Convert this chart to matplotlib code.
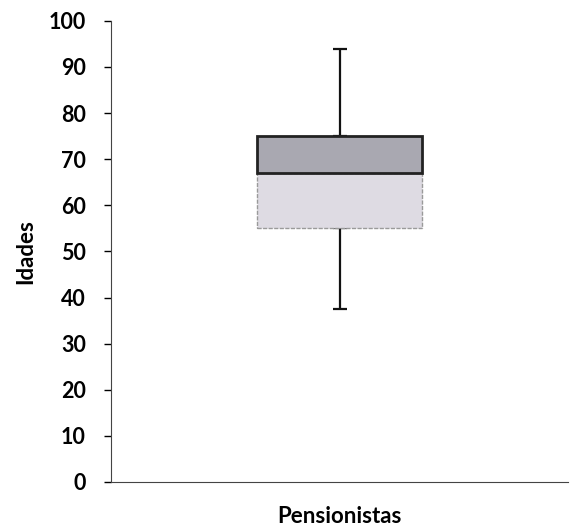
import matplotlib.pyplot as plt

plt.rcParams['font.family'] = ['Lato', 'DejaVu Sans']

# box plot statistics (Idades dos pensionistas)
category = "Pensionistas"
minimo = 37.5
q1 = 55
mediana = 67
q3 = 75
maximo = 94

fig = plt.figure(figsize=(5.78, 5.27), dpi=100)
ax = fig.add_axes([0.192, 0.0854, 0.791, 0.875])

x = 0.5
w = 0.36
# lower half of the box (Q1 -> median)
ax.bar(x, mediana - q1, bottom=q1, width=w, color='#dedbe3',
       edgecolor='#9a9a9a', linewidth=1, linestyle=(0, (3, 1)), zorder=2)
# upper half of the box (median -> Q3)
ax.bar(x, q3 - mediana, bottom=mediana, width=w, color='#a9a8b1',
       edgecolor='#222222', linewidth=2, zorder=3)
# whiskers
ax.errorbar([x], [q3], yerr=[[0], [maximo - q3]], fmt='none',
            ecolor='#111111', elinewidth=1.6, capsize=5, capthick=1.6, zorder=1)
ax.errorbar([x], [q1], yerr=[[q1 - minimo], [0]], fmt='none',
            ecolor='#111111', elinewidth=1.6, capsize=5, capthick=1.6, zorder=1)

ax.set_xlim(0, 1)
ax.set_ylim(0, 100)
ax.set_yticks(range(0, 101, 10))
ax.set_xticks([])
ax.set_xlabel(category, fontsize=16, fontweight='bold', labelpad=17)
ax.set_ylabel("Idades", fontsize=16, fontweight='bold', labelpad=9)
ax.tick_params(axis='y', labelsize=15.5, length=5, width=1, pad=13)
for lbl in ax.get_yticklabels():
    lbl.set_fontweight('bold')

ax.spines['top'].set_visible(False)
ax.spines['right'].set_visible(False)
ax.spines['left'].set_color('#444444')
ax.spines['bottom'].set_color('#444444')

fig.savefig('out.png', dpi=100)
